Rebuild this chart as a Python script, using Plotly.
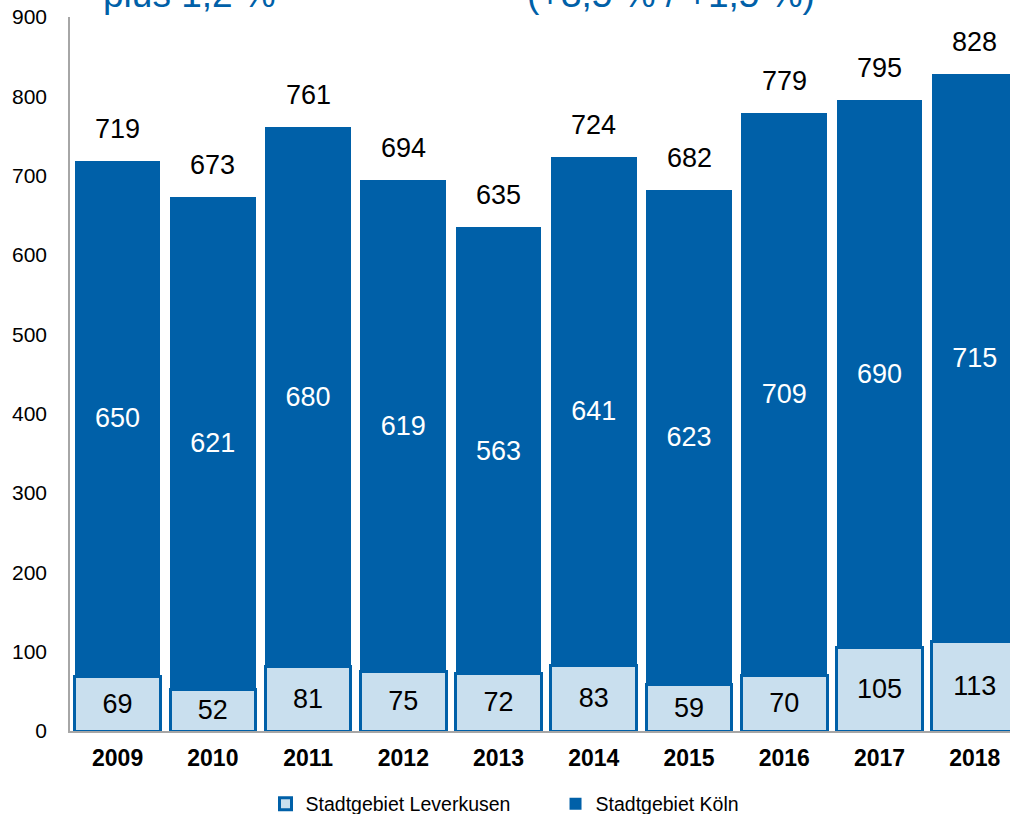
import plotly.graph_objects as go

years = ["2009", "2010", "2011", "2012", "2013", "2014", "2015", "2016", "2017", "2018"]
leverkusen = [69, 52, 81, 75, 72, 83, 59, 70, 105, 113]
koeln = [650, 621, 680, 619, 563, 641, 623, 709, 690, 715]
totals = [719, 673, 761, 694, 635, 724, 682, 779, 795, 828]
y_ticks = [0, 100, 200, 300, 400, 500, 600, 700, 800, 900]
headline_left = "plus 1,2 %"
headline_right = "(+3,5 % / +1,5 %)"

DARK = "#0060A8"
LIGHT = "#C9DFEE"
FONT = "Liberation Sans, Arial, sans-serif"

fig = go.Figure()
fig.add_trace(go.Bar(
    x=years, y=leverkusen, name="Stadtgebiet Leverkusen",
    marker=dict(color=LIGHT, line=dict(color=DARK, width=3)),
    text=[str(v) for v in leverkusen], textposition="inside",
    insidetextanchor="middle", textangle=0,
    textfont=dict(color="#000000", size=27, family=FONT),
    constraintext="none",
))
fig.add_trace(go.Bar(
    x=years, y=koeln, name="Stadtgebiet Köln",
    marker=dict(color=DARK, line=dict(color=DARK, width=0)),
    text=[str(v) for v in koeln], textposition="inside",
    insidetextanchor="middle", textangle=0,
    textfont=dict(color="#FFFFFF", size=27, family=FONT),
    constraintext="none",
))

for i, t in enumerate(totals):
    fig.add_annotation(x=i, y=t, xref="x", yref="y", text=str(t),
                       showarrow=False, yanchor="bottom", yshift=15,
                       font=dict(size=27, color="#000000", family=FONT))

fig.add_annotation(x=0.033, y=1.031, xref="paper", yref="paper", text=headline_left,
                   showarrow=False, xanchor="left", yanchor="middle",
                   font=dict(size=37, color=DARK, family=FONT))
fig.add_annotation(x=0.484, y=1.031, xref="paper", yref="paper", text=headline_right,
                   showarrow=False, xanchor="left", yanchor="middle",
                   font=dict(size=37, color=DARK, family=FONT))

fig.update_layout(
    width=1010, height=814,
    margin=dict(l=70, r=0, t=17, b=83, autoexpand=False),
    barmode="stack", bargap=0.1,
    plot_bgcolor="white", paper_bgcolor="white",
    font=dict(family=FONT, color="#000000"),
    uniformtext=dict(mode=False),
    legend=dict(orientation="h", x=0.208, xanchor="left", y=-0.075, yanchor="top",
                font=dict(size=19.5, family=FONT), traceorder="normal",
                itemwidth=30, entrywidth=245),
    showlegend=True,
)
fig.update_xaxes(
    type="category", range=[-0.5, 9.37],
    showline=True, linecolor="#A6A6A6", linewidth=1.5,
    ticks="", showgrid=False, ticklabelstandoff=6,
    tickfont=dict(size=23, family=FONT, color="#000000", weight="bold"),
)
fig.update_yaxes(
    range=[0, 900], tickvals=y_ticks, ticktext=[str(v) for v in y_ticks],
    showline=True, linecolor="#A6A6A6", linewidth=1.5,
    ticks="", showgrid=False, zeroline=False, ticklabelstandoff=17,
    tickfont=dict(size=21, family=FONT, color="#000000"),
)

fig.write_html("out.html", config={"displayModeBar": False},
               post_script="document.body.style.margin='0px';document.body.style.overflow='hidden';")
